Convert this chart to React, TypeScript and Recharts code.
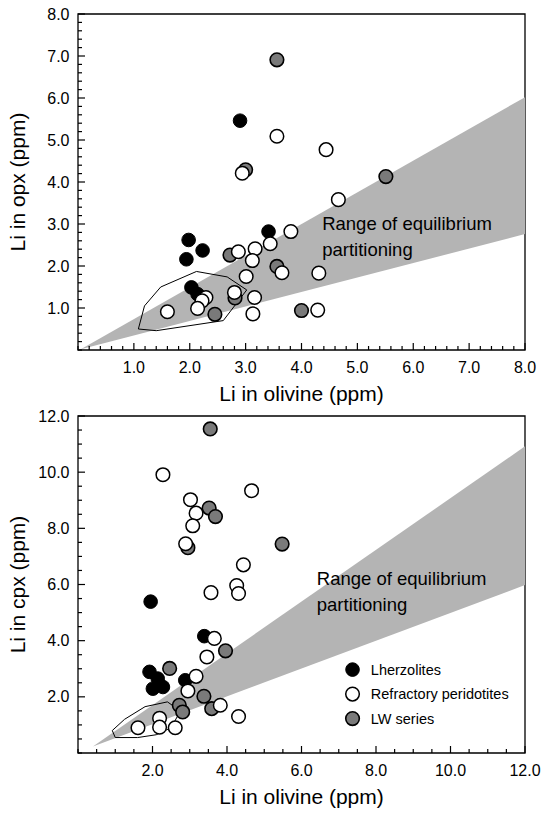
import React from 'react';
import { ScatterChart, Scatter, XAxis, YAxis, ReferenceArea } from 'recharts';

const FONT = '"Liberation Sans", Arial, Helvetica, sans-serif';

// ---------- Top panel: Li in opx vs Li in olivine ----------
const opxLherzolites = [
  { x: 2.90, y: 5.46 }, { x: 3.41, y: 2.82 }, { x: 1.98, y: 2.62 }, { x: 2.23, y: 2.37 },
  { x: 1.94, y: 2.16 }, { x: 2.03, y: 1.49 }, { x: 2.14, y: 1.33 },
];
const opxRefractory = [
  { x: 3.56, y: 5.09 }, { x: 4.44, y: 4.77 }, { x: 2.94, y: 4.21 }, { x: 4.66, y: 3.58 },
  { x: 3.81, y: 2.82 }, { x: 3.44, y: 2.53 }, { x: 2.87, y: 2.34 }, { x: 3.17, y: 2.41 },
  { x: 3.12, y: 2.13 }, { x: 3.65, y: 1.84 }, { x: 4.31, y: 1.83 }, { x: 3.01, y: 1.75 },
  { x: 2.29, y: 1.25 }, { x: 2.22, y: 1.17 }, { x: 2.14, y: 0.99 }, { x: 1.60, y: 0.91 },
  { x: 2.80, y: 1.37 }, { x: 3.16, y: 1.25 }, { x: 3.13, y: 0.86 }, { x: 4.29, y: 0.95 },
];
const opxLW = [
  { x: 3.56, y: 6.91 }, { x: 3.00, y: 4.29 }, { x: 5.51, y: 4.13 }, { x: 2.72, y: 2.26 },
  { x: 3.56, y: 1.99 }, { x: 2.45, y: 0.85 }, { x: 2.81, y: 1.24 }, { x: 4.00, y: 0.94 },
];
const opxEquilibriumWedge = [{ x: 0.05, y: 0.02 }, { x: 8, y: 6.02 }, { x: 8, y: 2.76 }];
const opxField = [
  { x: 1.08, y: 0.50 }, { x: 1.19, y: 1.05 }, { x: 1.48, y: 1.50 }, { x: 2.12, y: 1.87 },
  { x: 2.67, y: 1.74 }, { x: 3.02, y: 1.43 }, { x: 2.60, y: 0.70 }, { x: 1.40, y: 0.46 },
  { x: 1.08, y: 0.50 },
];
const opxRangeLabelAt = [{ x: 4.37, y: 3.02 }];
const opxMajorTicks = [1, 2, 3, 4, 5, 6, 7, 8];
const opxMax = 8;
const opxMinorStep = 0.2;

// ---------- Bottom panel: Li in cpx vs Li in olivine ----------
const cpxLherzolites = [
  { x: 1.95, y: 5.39 }, { x: 3.39, y: 4.16 }, { x: 1.92, y: 2.89 }, { x: 2.14, y: 2.65 },
  { x: 2.01, y: 2.29 }, { x: 2.28, y: 2.35 }, { x: 2.88, y: 2.59 },
];
const cpxRefractory = [
  { x: 2.28, y: 9.91 }, { x: 4.66, y: 9.34 }, { x: 3.02, y: 9.02 }, { x: 3.17, y: 8.54 },
  { x: 3.08, y: 8.09 }, { x: 2.89, y: 7.45 }, { x: 4.44, y: 6.70 }, { x: 4.26, y: 5.96 },
  { x: 4.31, y: 5.68 }, { x: 3.57, y: 5.71 }, { x: 3.66, y: 4.08 }, { x: 3.46, y: 3.42 },
  { x: 3.17, y: 2.73 }, { x: 2.95, y: 2.21 }, { x: 3.82, y: 1.70 }, { x: 4.31, y: 1.30 },
  { x: 2.19, y: 1.24 }, { x: 1.61, y: 0.90 }, { x: 2.19, y: 0.92 }, { x: 2.61, y: 0.90 },
];
const cpxLW = [
  { x: 3.55, y: 11.54 }, { x: 3.52, y: 8.72 }, { x: 3.69, y: 8.42 }, { x: 2.95, y: 7.31 },
  { x: 5.48, y: 7.44 }, { x: 3.96, y: 3.64 }, { x: 2.46, y: 3.01 }, { x: 3.38, y: 2.02 },
  { x: 3.59, y: 1.58 }, { x: 2.72, y: 1.70 }, { x: 2.81, y: 1.46 },
];
const cpxEquilibriumWedge = [{ x: 0.40, y: 0.23 }, { x: 12, y: 10.92 }, { x: 12, y: 5.98 }];
const cpxField = [
  { x: 0.92, y: 0.80 }, { x: 1.25, y: 1.20 }, { x: 1.80, y: 1.65 }, { x: 2.40, y: 1.82 },
  { x: 2.75, y: 1.50 }, { x: 2.50, y: 0.90 }, { x: 2.10, y: 0.65 }, { x: 1.60, y: 0.55 },
  { x: 1.00, y: 0.55 }, { x: 0.92, y: 0.80 },
];
const cpxRangeLabelAt = [{ x: 6.41, y: 6.22 }];
const cpxLegendAt = [{ x: 7.37, y: 2.97 }];
const cpxMajorTicks = [2, 4, 6, 8, 10, 12];
const cpxMax = 12;
const cpxMinorStep = 0.5;

const legendItems = ['Lherzolites', 'Refractory peridotites', 'LW series'];

// ---------- styles ----------
const BLACK_FILL = '#000000';
const OPEN_FILL = '#ffffff';
const LW_FILL = '#7a7a7a';
const WEDGE_FILL = '#b4b4b4';
const R = 6.8;

const buildTicks = (max: number, step: number) =>
  Array.from({ length: Math.round(max / step) + 1 }, (_, i) => Math.round(i * step * 100) / 100);

const dotShape = (fill: string, sw: number) => (p: any) => (
  <circle cx={p.cx} cy={p.cy} r={R} fill={fill} stroke="#000" strokeWidth={sw} />
);
const NoShape = () => <g />;

const makeXTick = (majors: number[]) => (props: any) => {
  const { x, y, payload } = props;
  const v = payload.value;
  const major = majors.includes(v);
  return (
    <g>
      <line x1={x} x2={x} y1={y} y2={y - (major ? 7 : 4)} stroke="#000" strokeWidth={1.2} />
      {major && (
        <text x={x} y={y + 17.5} textAnchor="middle" dominantBaseline="central" fontSize={16} fontFamily={FONT} fill="#000">
          {v.toFixed(1)}
        </text>
      )}
    </g>
  );
};
const makeYTick = (majors: number[]) => (props: any) => {
  const { x, y, payload } = props;
  const v = payload.value;
  const major = majors.includes(v);
  return (
    <g>
      <line x1={x} x2={x + (major ? 7 : 4)} y1={y} y2={y} stroke="#000" strokeWidth={1.2} />
      {major && (
        <text x={x - 8.5} y={y} textAnchor="end" dominantBaseline="central" fontSize={16} fontFamily={FONT} fill="#000">
          {v.toFixed(1)}
        </text>
      )}
    </g>
  );
};

const XTitle = (props: any) => {
  const vb = props.viewBox || { x: 78, y: 350, width: 447, height: 50 };
  return (
    <text x={vb.x + vb.width / 2} y={vb.y + 43} textAnchor="middle" dominantBaseline="central" fontSize={21} fontFamily={FONT} fill="#000">
      {props.text}
    </text>
  );
};
const YTitle = (props: any) => {
  const vb = props.viewBox || { x: 0, y: 14, width: 78, height: 336 };
  const cx = 17.5;
  const cy = vb.y + vb.height / 2;
  return (
    <text x={cx} y={cy} transform={`rotate(-90, ${cx}, ${cy})`} textAnchor="middle" dominantBaseline="central" fontSize={21} fontFamily={FONT} fill="#000">
      {props.text}
    </text>
  );
};

const RangeText = (p: any) => (
  <text x={p.cx} y={p.cy} dominantBaseline="central" fontSize={18.5} fontFamily={FONT} fill="#000">
    <tspan x={p.cx}>Range of equilibrium</tspan>
    <tspan x={p.cx} dy={25.5}>partitioning</tspan>
  </text>
);

const legendStyles = [
  { fill: BLACK_FILL, sw: 1 },
  { fill: OPEN_FILL, sw: 1.5 },
  { fill: LW_FILL, sw: 1.6 },
];
const LegendShape = (p: any) => (
  <g>
    {legendItems.map((label, i) => (
      <g key={label}>
        <circle cx={p.cx} cy={p.cy + i * 24.5} r={R} fill={legendStyles[i].fill} stroke="#000" strokeWidth={legendStyles[i].sw} />
        <text x={p.cx + 18.3} y={p.cy + i * 24.5} dominantBaseline="central" fontSize={14.5} fontFamily={FONT} fill="#000">
          {label}
        </text>
      </g>
    ))}
  </g>
);

type PanelProps = {
  height: number;
  top: number;
  plotTop: number;
  xAxisHeight: number;
  max: number;
  step: number;
  majors: number[];
  yTitle: string;
  lherz: { x: number; y: number }[];
  refr: { x: number; y: number }[];
  lw: { x: number; y: number }[];
  wedge: { x: number; y: number }[];
  field: { x: number; y: number }[];
  rangeAt: { x: number; y: number }[];
  legendAt?: { x: number; y: number }[];
};

const Panel = (pp: PanelProps) => {
  const ticks = buildTicks(pp.max, pp.step);
  return (
    <div style={{ position: 'absolute', left: 0, top: pp.top }}>
      <ScatterChart width={546} height={pp.height} margin={{ top: pp.plotTop, right: 21, left: 0, bottom: 0 }}>
        <XAxis
          type="number"
          dataKey="x"
          domain={[0, pp.max]}
          ticks={ticks}
          interval={0}
          tickSize={0}
          tickMargin={0}
          tickLine={false}
          axisLine={false}
          height={pp.xAxisHeight}
          tick={makeXTick(pp.majors)}
          label={<XTitle text="Li in olivine (ppm)" />}
        />
        <YAxis
          type="number"
          dataKey="y"
          domain={[0, pp.max]}
          ticks={ticks}
          interval={0}
          tickSize={0}
          tickMargin={0}
          tickLine={false}
          axisLine={false}
          width={78}
          tick={makeYTick(pp.majors)}
          label={<YTitle text={pp.yTitle} />}
        />
        <Scatter data={pp.wedge} shape={NoShape} line={{ fill: WEDGE_FILL, stroke: 'none' }} isAnimationActive={false} />
        <Scatter data={pp.field} shape={NoShape} line={{ fill: 'none', stroke: '#000', strokeWidth: 1 }} isAnimationActive={false} />
        <ReferenceArea x1={0} x2={pp.max} y1={0} y2={pp.max} fill="none" stroke="#000" strokeWidth={1.3} />
        <Scatter data={pp.rangeAt} shape={RangeText} isAnimationActive={false} />
        <Scatter data={pp.lherz} shape={dotShape(BLACK_FILL, 1)} isAnimationActive={false} />
        <Scatter data={pp.lw} shape={dotShape(LW_FILL, 1.6)} isAnimationActive={false} />
        <Scatter data={pp.refr} shape={dotShape(OPEN_FILL, 1.5)} isAnimationActive={false} />
        {pp.legendAt && <Scatter data={pp.legendAt} shape={LegendShape} isAnimationActive={false} />}
      </ScatterChart>
    </div>
  );
};

export default function App() {
  return (
    <div style={{ position: 'absolute', left: 0, top: 0, width: 546, height: 815, background: '#fff', fontFamily: FONT }}>
      <Panel
        height={410}
        top={0}
        plotTop={14}
        xAxisHeight={60}
        max={opxMax}
        step={opxMinorStep}
        majors={opxMajorTicks}
        yTitle="Li in opx (ppm)"
        lherz={opxLherzolites}
        refr={opxRefractory}
        lw={opxLW}
        wedge={opxEquilibriumWedge}
        field={opxField}
        rangeAt={opxRangeLabelAt}
      />
      <Panel
        height={415}
        top={400}
        plotTop={16}
        xAxisHeight={62}
        max={cpxMax}
        step={cpxMinorStep}
        majors={cpxMajorTicks}
        yTitle="Li in cpx (ppm)"
        lherz={cpxLherzolites}
        refr={cpxRefractory}
        lw={cpxLW}
        wedge={cpxEquilibriumWedge}
        field={cpxField}
        rangeAt={cpxRangeLabelAt}
        legendAt={cpxLegendAt}
      />
    </div>
  );
}
